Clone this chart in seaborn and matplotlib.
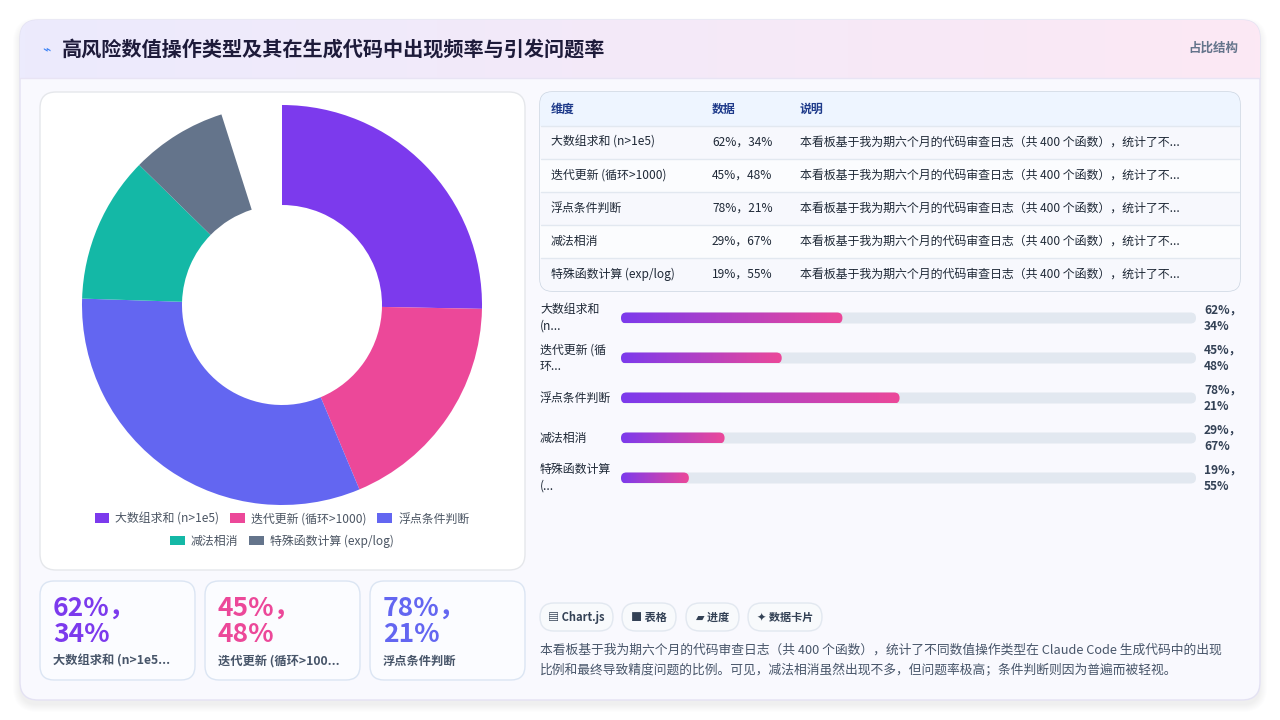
import numpy as np
import pandas as pd
import seaborn as sns
import matplotlib.pyplot as plt
from matplotlib.patches import FancyBboxPatch, Rectangle, Patch
from matplotlib.colors import LinearSegmentedColormap, to_rgb
from matplotlib.transforms import blended_transform_factory

# data
categories = ["大数组求和 (n>1e5)", "迭代更新 (循环>1000)", "浮点条件判断", "减法相消", "特殊函数计算 (exp/log)"]
freq = [62, 45, 78, 29, 19]
issue = [34, 48, 21, 67, 55]
colors = ["#7c3aed", "#ec4899", "#6366f1", "#14b8a6", "#64748b"]
donut_gap = 12          # empty part of the ring at the top
bar_max = 161           # full length of the progress track
bar_labels = ["大数组求和\n(n...", "迭代更新 (循\n环...", "浮点条件判断", "减法相消", "特殊函数计算\n(..."]
kpi_labels = ["大数组求和 (n>1e5...", "迭代更新 (循环>100...", "浮点条件判断"]
table_note = "本看板基于我为期六个月的代码审查日志（共 400 个函数），统计了不..."
chips = ["▤ Chart.js", "■ 表格", "▰ 进度", "✦ 数据卡片"]
footer_lines = [
    "本看板基于我为期六个月的代码审查日志（共 400 个函数），统计了不同数值操作类型在 Claude Code 生成代码中的出现",
    "比例和最终导致精度问题的比例。可见，减法相消虽然出现不多，但问题率极高；条件判断则因为普遍而被轻视。",
]
title = "高风险数值操作类型及其在生成代码中出现频率与引发问题率"
tag = "占比结构"

sns.set_theme(style="white")
plt.rcParams['font.family'] = ['Noto Sans CJK SC', 'DejaVu Sans']
MED = "medium"

W, H = 1280, 720
fig = plt.figure(figsize=(W / 100, H / 100), dpi=100)
fig.patch.set_facecolor("white")

# background axes in pixel coordinates
bg = fig.add_axes([0, 0, 1, 1])
bg.set_xlim(0, W)
bg.set_ylim(H, 0)
bg.axis("off")


def rounded(x, y, w, h, r, **kw):
    return FancyBboxPatch((x, y), w, h, boxstyle=f"round,pad=0,rounding_size={r}", **kw)


def hgrad(c1, c2, n=256):
    a, b = np.array(to_rgb(c1)), np.array(to_rgb(c2))
    t = np.linspace(0, 1, n)[:, None]
    return (a + (b - a) * t)[None, :, :]


# card shadow
for i in range(8):
    bg.add_patch(rounded(20 - i, 22 - i + 3, 1240 + 2 * i, 680 + 2 * i, 18 + i,
                         facecolor="#64748b", edgecolor="none", alpha=0.012, zorder=0))
card = rounded(20, 20, 1240, 680, 18, facecolor="#f9f9fe", edgecolor="#e4e2f3", lw=1, zorder=1)
bg.add_patch(card)

# header gradient
im = bg.imshow(hgrad("#ecebfd", "#fce8f4"), extent=(20, 1260, 78, 20), aspect="auto", zorder=2)
im.set_clip_path(card)
bg.plot([20, 1260], [78, 78], color="#e8e4f4", lw=1, zorder=3)
bg.set_xlim(0, W)
bg.set_ylim(H, 0)
bg.text(46, 49, "⌁", fontsize=10, color="#3b82f6", ha="center", va="center", zorder=4,
        family=["DejaVu Sans"])
bg.text(62, 49, title, fontsize=14.5, fontweight="bold", color="#1e1b3a", va="center", zorder=4)
bg.text(1238, 48, tag, fontsize=9, fontweight="bold", color="#64748b", ha="right", va="center", zorder=4)

# donut panel
bg.add_patch(rounded(40, 92, 485, 478, 16, facecolor="white", edgecolor="#e5e7eb", lw=1, zorder=3))

# KPI cards
kpi_x = [40, 205, 370]
for i, x in enumerate(kpi_x):
    bg.add_patch(rounded(x, 581, 155, 99, 14, facecolor="#fbfcff", edgecolor="#dbe5f3", lw=1, zorder=3))
    bg.text(x + 13, 608, f"{freq[i]}%，", fontsize=19, fontweight="heavy", color=colors[i],
            va="center", zorder=4)
    bg.text(x + 13, 634, f"{issue[i]}%", fontsize=19, fontweight="heavy", color=colors[i],
            va="center", zorder=4)
    bg.text(x + 13, 661, kpi_labels[i], fontsize=8.8, fontweight="bold", color="#475569",
            va="center", zorder=4)

# table
tbl = rounded(540, 92, 700, 199, 12, facecolor="white", edgecolor="#cbd5e1", lw=1, zorder=3)
bg.add_patch(tbl)
hdr = Rectangle((540, 92), 700, 34, facecolor="#eef5ff", edgecolor="none", zorder=3.5)
bg.add_patch(hdr)
hdr.set_clip_path(tbl)
row_y = [126, 159, 192, 225, 258]
for i, y in enumerate(row_y):
    r = Rectangle((540, y), 700, 33, facecolor="#f7f8fd" if i % 2 == 0 else "#fbfcfe",
                  edgecolor="none", zorder=3.5)
    bg.add_patch(r)
    r.set_clip_path(tbl)
    bg.plot([541, 1239], [y, y], color="#e2e8f0", lw=1, zorder=3.6)
col_x = [551, 712, 800]
for x, h in zip(col_x, ["维度", "数据", "说明"]):
    bg.text(x, 109, h, fontsize=8.6, fontweight="bold", color="#1e3a8a", va="center", zorder=4)
for i, y in enumerate(row_y):
    cy = y + 16.5
    bg.text(col_x[0], cy, categories[i], fontsize=8.6, fontweight=MED, color="#1f2937", va="center", zorder=4)
    bg.text(col_x[1], cy, f"{freq[i]}%，{issue[i]}%", fontsize=8.6, fontweight=MED, color="#1f2937",
            va="center", zorder=4)
    bg.text(col_x[2], cy, table_note, fontsize=8.6, fontweight=MED, color="#1f2937", va="center", zorder=4)

# chips
chip_x = [540, 622, 686, 748]
chip_w = [73, 54, 53, 74]
for x, w, c in zip(chip_x, chip_w, chips):
    bg.add_patch(rounded(x, 603, w, 28, 14, facecolor="#f8fafc", edgecolor="#e2e8f0", lw=1, zorder=3))
    bg.text(x + w / 2, 617, c, fontsize=8, fontweight="bold", color="#334155",
            ha="center", va="center", zorder=4)

for i, line in enumerate(footer_lines):
    bg.text(540, 650 + 21 * i, line, fontsize=9.2, fontweight=MED, color="#475569", va="center", zorder=4)

# donut chart
dax = fig.add_axes([82 / W, 1 - 505 / H, 400 / W, 400 / H])
dax.pie(freq + [donut_gap], colors=colors + ["none"], startangle=90, counterclock=False,
        radius=1, wedgeprops=dict(width=0.5, linewidth=0))
dax.set_xlim(-1, 1)
dax.set_ylim(-1, 1)
dax.set_aspect("equal")
dax.axis("off")

handles = [Patch(facecolor=c, edgecolor="none") for c in colors]
leg_kw = dict(loc="center", frameon=False, handlelength=1.25, handleheight=0.9,
              handletextpad=0.5, columnspacing=0.9, labelcolor="#4b5563",
              prop=dict(size=8.6, weight=MED))
fig.legend(handles[:3], categories[:3], ncol=3, bbox_to_anchor=(282 / W, 1 - 519 / H), **leg_kw)
fig.legend(handles[3:], categories[3:], ncol=2, bbox_to_anchor=(282 / W, 1 - 541 / H), **leg_kw)

# progress bars
bax = fig.add_axes([621 / W, 1 - 498 / H, 575 / W, 200 / H])
bax.patch.set_alpha(0)
df = pd.DataFrame({"cat": categories, "freq": freq})
sns.barplot(data=df, x="freq", y="cat", orient="h", ax=bax, width=0.275, color=colors[0])
bax.set_xlim(0, bar_max)
bax.set_ylim(4.5, -0.5)
bax.axis("off")

ux = bar_max / 575
uy = 5 / 200
r_px = 5.4
grad_cmap = LinearSegmentedColormap.from_list("pg", ["#7c3aed", "#ec4899"])
for i, p in enumerate(list(bax.patches)):
    x0, y0, w, h = p.get_x(), p.get_y(), p.get_width(), p.get_height()
    p.set_visible(False)
    track = FancyBboxPatch((0, y0), bar_max, h, boxstyle=f"round,pad=0,rounding_size={r_px * ux}",
                           mutation_aspect=uy / ux, facecolor="#e2e8f0", edgecolor="none", zorder=1)
    bax.add_patch(track)
    fill = FancyBboxPatch((x0, y0), w, h, boxstyle=f"round,pad=0,rounding_size={r_px * ux}",
                          mutation_aspect=uy / ux, facecolor="none", edgecolor="none", zorder=2)
    bax.add_patch(fill)
    g = bax.imshow(np.linspace(0, 1, 256)[None, :], cmap=grad_cmap, extent=(x0, x0 + w, y0 + h, y0),
                   aspect="auto", zorder=2)
    g.set_clip_path(fill)
bax.set_xlim(0, bar_max)
bax.set_ylim(4.5, -0.5)

tr = blended_transform_factory(bax.transAxes, bax.transData)
for i in range(len(categories)):
    bax.text((540 - 621) / 575, i, bar_labels[i], transform=tr, fontsize=8.6, fontweight=MED,
             color="#1f2937", va="center", ha="left", linespacing=1.35, clip_on=False)
    bax.text((1204 - 621) / 575, i, f"{freq[i]}%，\n{issue[i]}%", transform=tr, fontsize=8.6,
             fontweight="bold", color="#334155", va="center", ha="left", linespacing=1.35, clip_on=False)

fig.savefig("out.png", dpi=100, facecolor=fig.get_facecolor())
